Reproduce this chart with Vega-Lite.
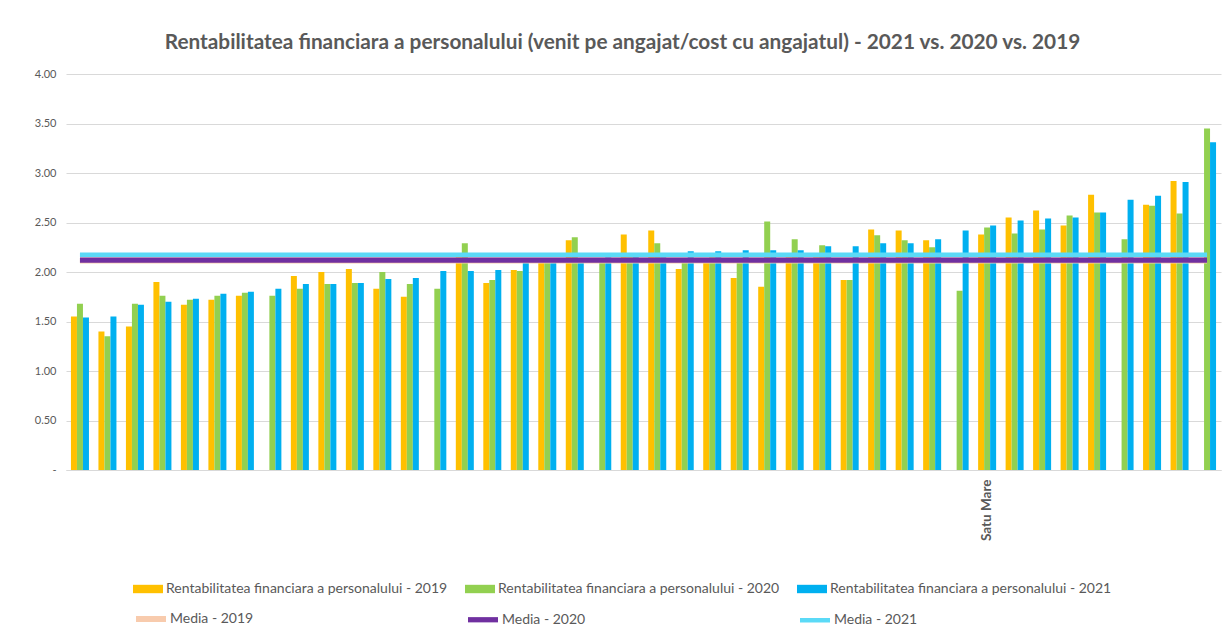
{
  "$schema": "https://vega.github.io/schema/vega-lite/v6.json",
  "width": 1155,
  "height": 396,
  "autosize": {"type": "none"},
  "padding": {"left": 66, "top": 74, "right": 3, "bottom": 164},
  "background": "white",
  "config": {"font": "Lato", "view": {"stroke": null}},
  "title": {
    "text": "Rentabilitatea financiara a personalului (venit pe angajat/cost cu angajatul) - 2021 vs. 2020 vs. 2019",
    "font": "Lato",
    "fontSize": 20.8,
    "fontWeight": "bold",
    "color": "#595959",
    "anchor": "middle",
    "dx": -21,
    "offset": 14
  },
  "datasets": {
    "rent": [
      {"judet": "J01", "2019": 1.55, "2020": 1.68, "2021": 1.54},
      {"judet": "J02", "2019": 1.40, "2020": 1.35, "2021": 1.55},
      {"judet": "J03", "2019": 1.45, "2020": 1.68, "2021": 1.67},
      {"judet": "J04", "2019": 1.90, "2020": 1.76, "2021": 1.70},
      {"judet": "J05", "2019": 1.67, "2020": 1.72, "2021": 1.73},
      {"judet": "J06", "2019": 1.72, "2020": 1.76, "2021": 1.78},
      {"judet": "J07", "2019": 1.76, "2020": 1.79, "2021": 1.80},
      {"judet": "J08", "2019": null, "2020": 1.76, "2021": 1.83},
      {"judet": "J09", "2019": 1.96, "2020": 1.83, "2021": 1.88},
      {"judet": "J10", "2019": 2.00, "2020": 1.88, "2021": 1.88},
      {"judet": "J11", "2019": 2.03, "2020": 1.89, "2021": 1.89},
      {"judet": "J12", "2019": 1.83, "2020": 2.00, "2021": 1.93},
      {"judet": "J13", "2019": 1.75, "2020": 1.88, "2021": 1.94},
      {"judet": "J14", "2019": null, "2020": 1.83, "2021": 2.01},
      {"judet": "J15", "2019": 2.15, "2020": 2.29, "2021": 2.01},
      {"judet": "J16", "2019": 1.89, "2020": 1.92, "2021": 2.02},
      {"judet": "J17", "2019": 2.02, "2020": 2.01, "2021": 2.09},
      {"judet": "J18", "2019": 2.11, "2020": 2.11, "2021": 2.12},
      {"judet": "J19", "2019": 2.32, "2020": 2.35, "2021": 2.09},
      {"judet": "J20", "2019": null, "2020": 2.10, "2021": 2.15},
      {"judet": "J21", "2019": 2.38, "2020": 2.15, "2021": 2.16},
      {"judet": "J22", "2019": 2.42, "2020": 2.29, "2021": 2.15},
      {"judet": "J23", "2019": 2.03, "2020": 2.09, "2021": 2.21},
      {"judet": "J24", "2019": 2.14, "2020": 2.15, "2021": 2.21},
      {"judet": "J25", "2019": 1.94, "2020": 2.09, "2021": 2.22},
      {"judet": "J26", "2019": 1.85, "2020": 2.51, "2021": 2.22},
      {"judet": "J27", "2019": 2.15, "2020": 2.33, "2021": 2.22},
      {"judet": "J28", "2019": 2.15, "2020": 2.27, "2021": 2.26},
      {"judet": "J29", "2019": 1.92, "2020": 1.92, "2021": 2.26},
      {"judet": "J30", "2019": 2.43, "2020": 2.37, "2021": 2.29},
      {"judet": "J31", "2019": 2.42, "2020": 2.32, "2021": 2.29},
      {"judet": "J32", "2019": 2.32, "2020": 2.25, "2021": 2.33},
      {"judet": "J33", "2019": null, "2020": 1.81, "2021": 2.42},
      {"judet": "Satu Mare", "2019": 2.38, "2020": 2.45, "2021": 2.47},
      {"judet": "J35", "2019": 2.55, "2020": 2.39, "2021": 2.52},
      {"judet": "J36", "2019": 2.62, "2020": 2.43, "2021": 2.54},
      {"judet": "J37", "2019": 2.47, "2020": 2.57, "2021": 2.55},
      {"judet": "J38", "2019": 2.78, "2020": 2.60, "2021": 2.60},
      {"judet": "J39", "2019": null, "2020": 2.33, "2021": 2.73},
      {"judet": "J40", "2019": 2.68, "2020": 2.67, "2021": 2.77},
      {"judet": "J41", "2019": 2.92, "2020": 2.59, "2021": 2.91},
      {"judet": "J42", "2019": null, "2020": 3.45, "2021": 3.31}
    ],
    "medii": [
      {"serie": "Media - 2019", "valoare": 2.115, "de_la": "J01", "pana_la": "J42"},
      {"serie": "Media - 2020", "valoare": 2.12, "de_la": "J01", "pana_la": "J42"},
      {"serie": "Media - 2021", "valoare": 2.175, "de_la": "J01", "pana_la": "J42"}
    ]
  },
  "layer": [
    {
      "data": {"name": "rent"},
      "transform": [{"fold": ["2019", "2020", "2021"], "as": ["serie", "valoare"]}],
      "mark": {"type": "bar"},
      "encoding": {
        "x": {
          "field": "judet",
          "type": "nominal",
          "sort": null,
          "scale": {"paddingInner": 0.345, "paddingOuter": 0.18},
          "axis": {
            "title": null,
            "labelAngle": -90,
            "labelExpr": "datum.value == 'Satu Mare' ? datum.value : ''",
            "labelColor": "#595959",
            "labelFontSize": 13.5,
            "labelFontWeight": "bold",
            "labelFont": "Lato",
            "labelPadding": 9,
            "ticks": false,
            "domainColor": "#D9D9D9",
            "domainWidth": 1
          }
        },
        "xOffset": {
          "field": "serie",
          "type": "nominal",
          "scale": {"domain": ["2019", "2020", "2021"], "paddingInner": 0, "paddingOuter": 0}
        },
        "y": {
          "field": "valoare",
          "type": "quantitative",
          "scale": {"domain": [0, 4], "nice": false},
          "axis": {
            "title": null,
            "values": [0, 0.5, 1, 1.5, 2, 2.5, 3, 3.5, 4],
            "labelExpr": "datum.value == 0 ? '-' : format(datum.value, '.2f')",
            "labelColor": "#595959",
            "labelFontSize": 11,
            "labelFont": "Lato",
            "labelPadding": 10,
            "domain": false,
            "ticks": false,
            "gridColor": "#D9D9D9",
            "gridWidth": 1
          }
        },
        "fill": {
          "field": "serie",
          "type": "nominal",
          "scale": {
            "domain": ["2019", "2020", "2021"],
            "range": ["#FFC000", "#92D050", "#00B0F0"]
          },
          "legend": {
            "orient": "none",
            "legendX": 67,
            "legendY": 500,
            "direction": "horizontal",
            "columns": 3,
            "gridAlign": "all",
            "title": null,
            "labelFont": "Lato",
            "labelFontSize": 14,
            "labelColor": "#595959",
            "labelLimit": 400,
            "labelOffset": 3,
            "symbolSize": 900,
            "symbolType": "M-1,-0.28H1V0.28H-1Z",
            "symbolStrokeWidth": 0,
            "columnPadding": 17,
            "labelExpr": "'Rentabilitatea financiara a personalului - ' + datum.label"
          }
        }
      }
    },
    {
      "data": {"name": "medii"},
      "mark": {"type": "rule"},
      "encoding": {
        "x": {"field": "de_la", "type": "nominal", "sort": null},
        "x2": {"field": "pana_la"},
        "y": {"field": "valoare", "type": "quantitative"},
        "stroke": {
          "field": "serie",
          "type": "nominal",
          "scale": {
            "domain": ["Media - 2019", "Media - 2020", "Media - 2021"],
            "range": ["#F8CBAD", "#7030A0", "#5BDAF7"]
          },
          "legend": {
            "orient": "none",
            "legendX": 67,
            "legendY": 527,
            "direction": "horizontal",
            "columns": 3,
            "gridAlign": "all",
            "title": null,
            "labelFont": "Lato",
            "labelFontSize": 14,
            "labelColor": "#595959",
            "labelOffset": 1,
            "symbolSize": 900,
            "symbolType": "stroke",
            "symbolStrokeWidth": 3,
            "columnPadding": 203
          }
        },
        "strokeWidth": {
          "field": "serie",
          "type": "nominal",
          "scale": {"domain": ["Media - 2019", "Media - 2020", "Media - 2021"], "range": [6, 4.5, 3.5]},
          "legend": null
        }
      }
    }
  ]
}
